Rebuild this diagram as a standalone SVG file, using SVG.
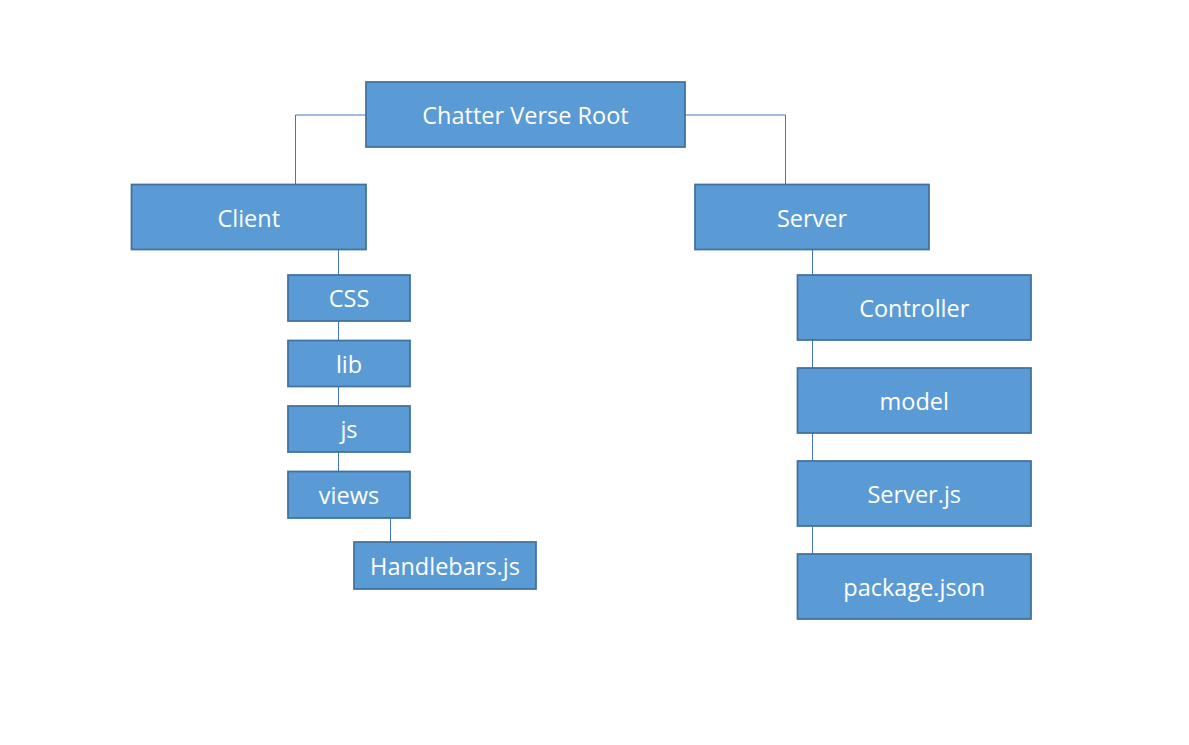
<svg xmlns="http://www.w3.org/2000/svg" width="1189" height="745" viewBox="0 0 1189 745">
<style>
.box{fill:#5B9BD5;stroke:#41719C;stroke-width:1.75}
.lbl{font-family:"Open Sans","Noto Sans",sans-serif;font-size:23.5px;fill:#FFFFFF;text-anchor:middle;dominant-baseline:central}
.con{fill:none;stroke:#4472C4;stroke-width:1}
</style>
<rect width="1189" height="745" fill="#FFFFFF"/>
<g id="connectors">
<polyline class="con" points="366,115 295.5,115 295.5,184"/>
<polyline class="con" points="685,115 785.5,115 785.5,184"/>
<line class="con" x1="338.5" y1="249" x2="338.5" y2="275"/>
<line class="con" x1="338.5" y1="321" x2="338.5" y2="340"/>
<line class="con" x1="338.5" y1="387" x2="338.5" y2="406"/>
<line class="con" x1="338.5" y1="452" x2="338.5" y2="471"/>
<line class="con" x1="390.5" y1="518" x2="390.5" y2="542"/>
<line class="con" x1="812.5" y1="249" x2="812.5" y2="275"/>
<line class="con" x1="812.5" y1="340" x2="812.5" y2="368"/>
<line class="con" x1="812.5" y1="433" x2="812.5" y2="461"/>
<line class="con" x1="812.5" y1="526" x2="812.5" y2="554"/>
</g>
<g id="root"><rect class="box" x="366" y="82" width="319" height="65"/><text class="lbl" x="525.5" y="115">Chatter Verse Root</text></g>
<g id="client"><rect class="box" x="131.5" y="184.5" width="234.5" height="65"/><text class="lbl" x="248.75" y="218">Client</text></g>
<g id="server"><rect class="box" x="695" y="184.5" width="234" height="65"/><text class="lbl" x="812" y="218">Server</text></g>
<g id="css"><rect class="box" x="288" y="275" width="122" height="46"/><text class="lbl" x="349" y="298">CSS</text></g>
<g id="lib"><rect class="box" x="288" y="340.5" width="122" height="46"/><text class="lbl" x="349" y="363.5">lib</text></g>
<g id="js"><rect class="box" x="288" y="406" width="122" height="46"/><text class="lbl" x="349" y="429">js</text></g>
<g id="views"><rect class="box" x="288" y="471.5" width="122" height="46.5"/><text class="lbl" x="349" y="494.5">views</text></g>
<g id="handlebars"><rect class="box" x="354" y="542" width="182" height="47"/><text class="lbl" x="445" y="565.5">Handlebars.js</text></g>
<g id="controller"><rect class="box" x="797.5" y="275" width="233.5" height="65"/><text class="lbl" x="914.25" y="307.5">Controller</text></g>
<g id="model"><rect class="box" x="797.5" y="368" width="233.5" height="65"/><text class="lbl" x="914.25" y="400.5">model</text></g>
<g id="serverjs"><rect class="box" x="797.5" y="461" width="233.5" height="65"/><text class="lbl" x="914.25" y="493.5">Server.js</text></g>
<g id="packagejson"><rect class="box" x="797.5" y="554" width="233.5" height="65"/><text class="lbl" x="914.25" y="586.5">package.json</text></g>
</svg>
